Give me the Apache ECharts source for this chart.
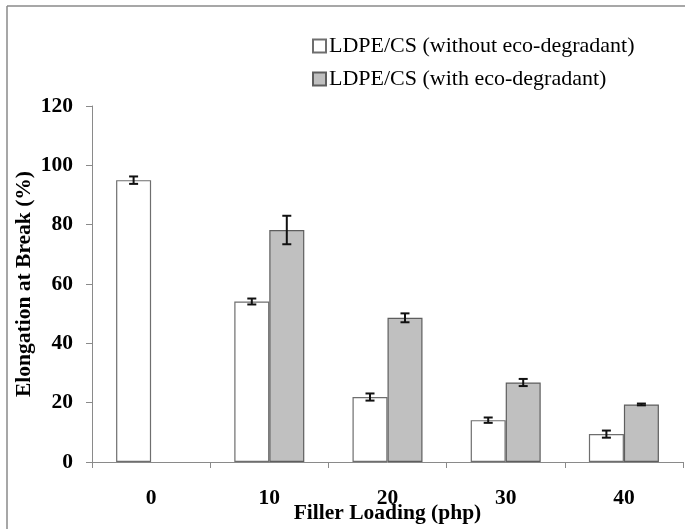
<!DOCTYPE html>
<html lang="en" style="height: 100%">
<head>
  <meta charset="utf-8">
</head>
<body style="height: 100%; margin: 0; background: #fff">
  <div id="container" style="width: 685px; height: 529px"></div>

  <script type="text/javascript" src="https://cdn.jsdelivr.net/npm/echarts@6/dist/echarts.min.js"></script>

  <script type="text/javascript">
    // data
    const categories = ['0', '10', '20', '30', '40'];
    const withoutEco = [95.0, 54.1, 21.9, 14.1, 9.4];
    const withoutEcoErr = [1.25, 1.0, 1.2, 0.9, 1.2];
    const withEco = [null, 78.2, 48.6, 26.8, 19.4];
    const withEcoErr = [null, 4.8, 1.5, 1.2, 0.3];
    const yTicks = [0, 20, 40, 60, 80, 100, 120];

    const serif = '"Liberation Serif", "Times New Roman", serif';
    const barW = 35;
    const fs = 21.5;

    function errData(vals, errs) {
      const out = [];
      vals.forEach(function (v, i) {
        if (v != null && errs[i] != null) out.push([i, v - errs[i], v + errs[i]]);
      });
      return out;
    }

    function errRender(offset) {
      return function (params, api) {
        const lo = api.coord([api.value(0), api.value(1)]);
        const hi = api.coord([api.value(0), api.value(2)]);
        const x = lo[0] + offset;
        const cap = 4.5;
        const style = { stroke: '#111', lineWidth: 2 };
        return {
          type: 'group',
          children: [
            { type: 'line', shape: { x1: x, y1: lo[1], x2: x, y2: hi[1] }, style: style },
            { type: 'line', shape: { x1: x - cap, y1: lo[1], x2: x + cap, y2: lo[1] }, style: style },
            { type: 'line', shape: { x1: x - cap, y1: hi[1], x2: x + cap, y2: hi[1] }, style: style }
          ]
        };
      };
    }

    var dom = document.getElementById('container');
    var myChart = echarts.init(dom, null, { renderer: 'canvas' });

    // outer frame (only top and left edges are visible in the source image)
    const frameStyle = { stroke: '#8a8a8a', lineWidth: 1.5 };

    var option = {
      animation: false,
      backgroundColor: '#fff',
      graphic: [
        { type: 'line', shape: { x1: 7, y1: 6, x2: 685, y2: 6 }, style: frameStyle, silent: true },
        { type: 'line', shape: { x1: 7, y1: 6, x2: 7, y2: 529 }, style: frameStyle, silent: true }
      ],
      legend: {
        orient: 'vertical',
        left: 307,
        top: 30,
        itemWidth: 13,
        itemHeight: 13,
        itemGap: 11,
        icon: 'rect',
        textStyle: { fontFamily: serif, fontSize: 22, color: '#000', padding: [0, 0, 0, -2] },
        data: ['LDPE/CS (without eco-degradant)', 'LDPE/CS (with eco-degradant)']
      },
      grid: { left: 92, top: 106, right: 2, bottom: 67, outerBoundsMode: 'none' },
      xAxis: {
        type: 'category',
        data: categories,
        name: 'Filler Loading (php)',
        nameLocation: 'middle',
        nameGap: 40,
        nameMoveOverlap: false,
        nameTextStyle: { fontFamily: serif, fontSize: fs, fontWeight: 'bold', color: '#000' },
        axisLine: { lineStyle: { color: '#8a8a8a', width: 1 } },
        axisTick: { show: true, length: 6, lineStyle: { color: '#8a8a8a' } },
        axisLabel: { margin: 25, fontFamily: serif, fontSize: fs, fontWeight: 'bold', color: '#000' }
      },
      yAxis: {
        type: 'value',
        min: yTicks[0],
        max: yTicks[yTicks.length - 1],
        interval: 20,
        name: 'Elongation at Break (%)',
        nameLocation: 'middle',
        nameGap: 57,
        nameMoveOverlap: false,
        nameTextStyle: { fontFamily: serif, fontSize: fs, fontWeight: 'bold', color: '#000' },
        axisLine: { show: true, lineStyle: { color: '#8a8a8a', width: 1 } },
        axisTick: { show: true, length: 6, lineStyle: { color: '#8a8a8a' } },
        splitLine: { show: false },
        axisLabel: { margin: 19, fontFamily: serif, fontSize: fs, fontWeight: 'bold', color: '#000' }
      },
      series: [
        {
          name: 'LDPE/CS (without eco-degradant)',
          type: 'bar',
          barWidth: barW,
          barGap: '0%',
          itemStyle: { color: '#ffffff', borderColor: '#6e6e6e', borderWidth: 1.2 },
          data: withoutEco
        },
        {
          name: 'LDPE/CS (with eco-degradant)',
          type: 'bar',
          barWidth: barW,
          barGap: '0%',
          itemStyle: { color: '#c0c0c0', borderColor: '#5e5e5e', borderWidth: 1.2 },
          data: withEco
        },
        {
          type: 'custom',
          renderItem: errRender(-barW / 2),
          encode: { x: 0, y: [1, 2] },
          data: errData(withoutEco, withoutEcoErr),
          z: 5
        },
        {
          type: 'custom',
          renderItem: errRender(barW / 2),
          encode: { x: 0, y: [1, 2] },
          data: errData(withEco, withEcoErr),
          z: 5
        }
      ]
    };

    myChart.setOption(option);
  </script>
</body>
</html>
